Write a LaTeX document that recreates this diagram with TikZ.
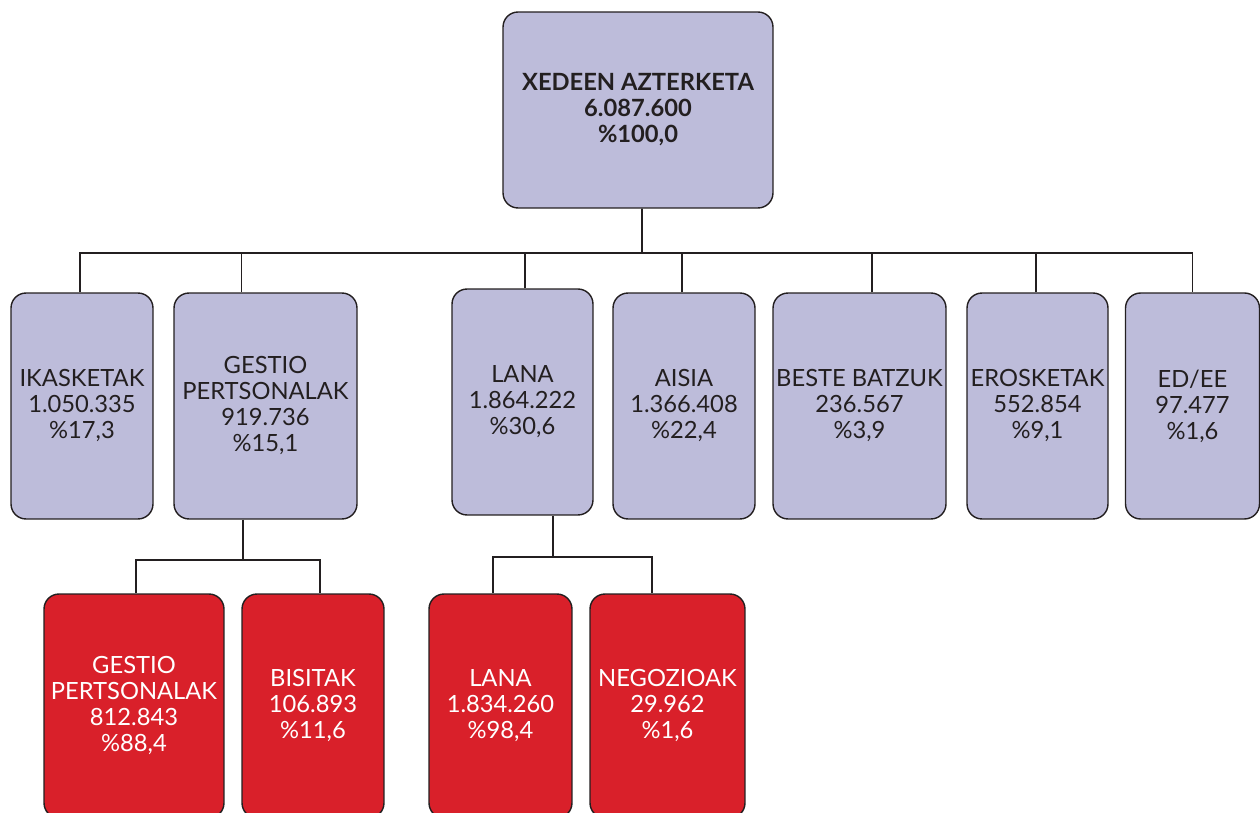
\documentclass[tikz,border=0pt]{standalone}
\usepackage{fontspec}
\setmainfont{Lato}
\definecolor{lila}{HTML}{BDBCDA}
\definecolor{gorri}{HTML}{D9202A}
\definecolor{ilun}{HTML}{231F20}
\begin{document}
\begin{tikzpicture}[x=0.02cm,y=-0.02cm,
  box/.style={draw=ilun, line width=0.8pt, rounded corners=0.3cm, align=center,
    inner sep=0pt, font=\fontsize{13.5}{14.8}\selectfont},
  lilabox/.style={box, fill=lila, text=ilun},
  gorribox/.style={box, fill=gorri, text=white, minimum height=4.48cm},
  link/.style={line width=1.1pt, ilun}]
\useasboundingbox (0,0) rectangle (1260,813);
% goiko kutxa
\node[lilabox, minimum width=5.4cm, minimum height=3.92cm, font=\fontsize{13.5}{14.8}\selectfont\bfseries] (xedeen) at (638,110)
  {XEDEEN AZTERKETA\\6.087.600\\\%100,0};
\coordinate (bus) at (642,253); % lerro nagusia
% bigarren maila
\node[lilabox, minimum width=2.84cm, minimum height=4.52cm] (ikasketak) at (82,406) {IKASKETAK\\1.050.335\\\%17,3};
\node[lilabox, minimum width=3.66cm, minimum height=4.52cm] (gestio) at (265.5,406) {GESTIO\\PERTSONALAK\\919.736\\\%15,1};
\node[lilabox, minimum width=2.82cm, minimum height=4.52cm] (lana) at (522.5,402) {LANA\\1.864.222\\\%30,6};
\node[lilabox, minimum width=2.84cm, minimum height=4.52cm] (aisia) at (684,406) {AISIA\\1.366.408\\\%22,4};
\node[lilabox, minimum width=3.46cm, minimum height=4.52cm] (beste) at (859.5,406) {BESTE BATZUK\\236.567\\\%3,9};
\node[lilabox, minimum width=2.82cm, minimum height=4.52cm] (erosketak) at (1037.5,406) {EROSKETAK\\552.854\\\%9,1};
\node[lilabox, minimum width=2.68cm, minimum height=4.52cm] (edee) at (1192.5,406) {ED/EE\\97.477\\\%1,6};
% hirugarren maila
\node[gorribox, minimum width=3.6cm] (gestiob) at (134,706) {GESTIO\\PERTSONALAK\\812.843\\\%88,4};
\node[gorribox, minimum width=2.84cm] (bisitak) at (313,706) {BISITAK\\106.893\\\%11,6};
\node[gorribox, minimum width=2.86cm] (lanab) at (500.5,706) {LANA\\1.834.260\\\%98,4};
\node[gorribox, minimum width=3.1cm] (negozioak) at (667.5,706) {NEGOZIOAK\\29.962\\\%1,6};
\coordinate (busg) at (243,560); % gestio azpia
\coordinate (busl) at (553,557); % lana azpia
% loturak
\draw[link] ([xshift=0.08cm]xedeen.south) -- (bus);
\draw[link] ([xshift=-0.04cm]ikasketak.north) |- (bus) -| (edee.north);
\draw[link] ([xshift=-0.48cm]gestio.north) -- ([xshift=-0.48cm]gestio.north |- bus);
\draw[link] ([xshift=0.05cm]lana.north) -- ([xshift=0.05cm]lana.north |- bus);
\draw[link] ([xshift=-0.04cm]aisia.north) -- ([xshift=-0.04cm]aisia.north |- bus);
\draw[link] ([xshift=0.25cm]beste.north) -- ([xshift=0.25cm]beste.north |- bus);
\draw[link] ([xshift=-0.03cm]erosketak.north) -- ([xshift=-0.03cm]erosketak.north |- bus);
\draw[link] (busg |- gestio.south) -- (busg);
\draw[link] ([xshift=0.04cm]gestiob.north) |- (busg) -| ([xshift=0.14cm]bisitak.north);
\draw[link] (busl |- lana.south) -- (busl);
\draw[link] ([xshift=-0.15cm]lanab.north) |- (busl) -| ([xshift=-0.31cm]negozioak.north);
\end{tikzpicture}
\end{document}
